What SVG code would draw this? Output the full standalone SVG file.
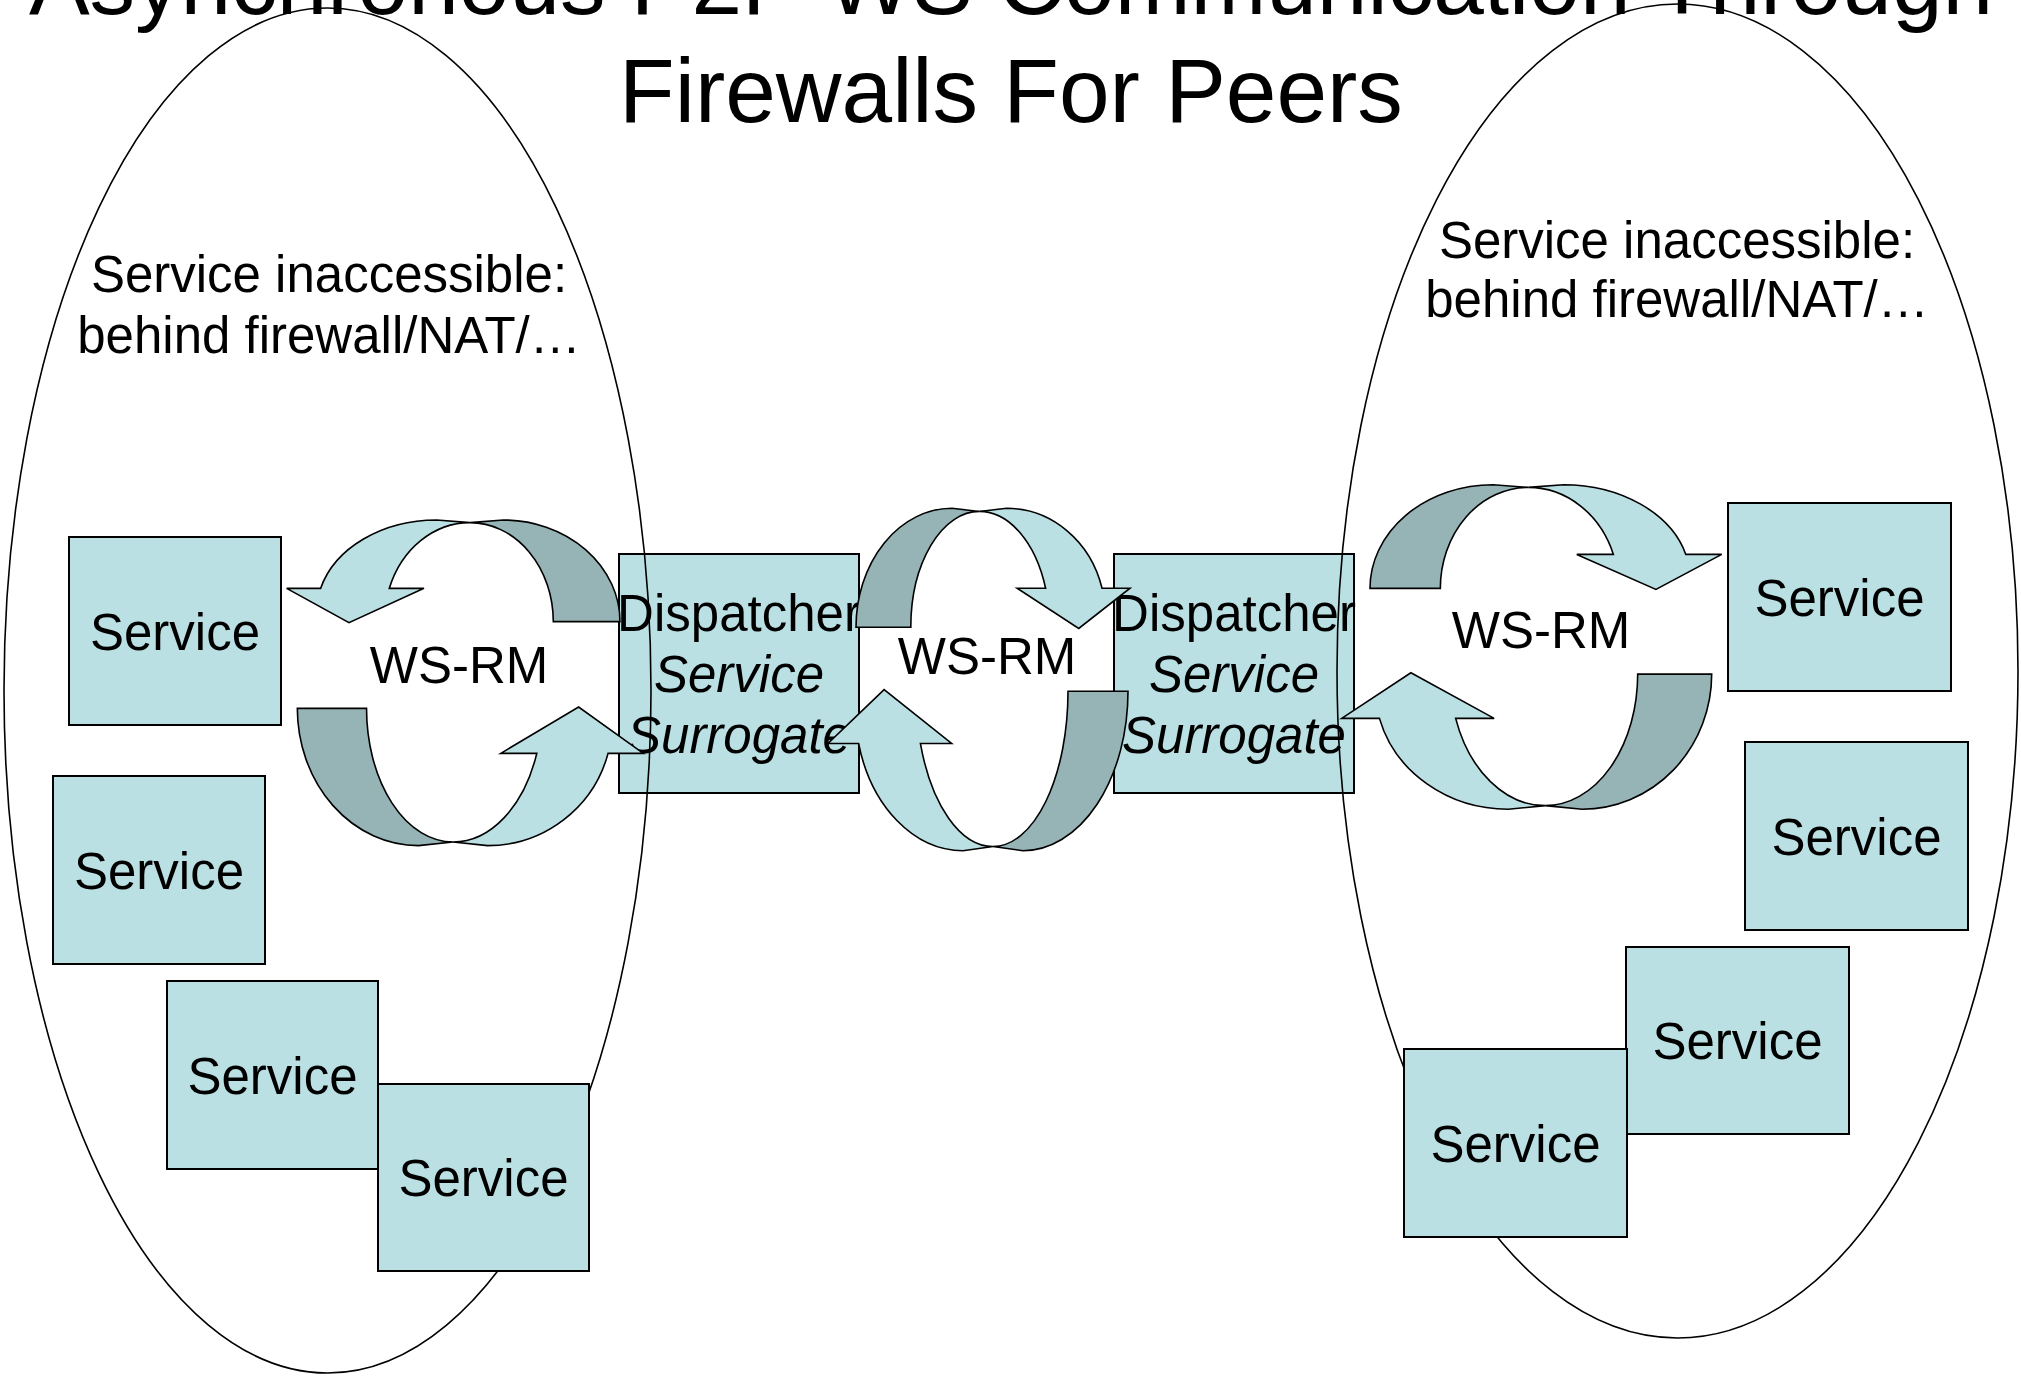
<svg xmlns="http://www.w3.org/2000/svg" width="2021" height="1376" viewBox="0 0 2021 1376">
<style>
text{font-family:"Liberation Sans",Arial,sans-serif;fill:#000;text-anchor:middle}
.t{font-size:91px}
.l{font-size:51px}
.i{font-style:italic}
.box{fill:#BBE0E3;stroke:#000;stroke-width:2}
.lt{fill:#BBE0E3;stroke:#000;stroke-width:1.6}
.dk{fill:#96B4B6;stroke:#000;stroke-width:1.6}
.ell{fill:none;stroke:#000;stroke-width:1.6}
</style>
<defs>
<g id="ca">
<path class="dk" vector-effect="non-scaling-stroke" d="M1000,305 A350,305 0 0 0 650,0 L550,8 A250,297 0 0 1 800,305 Z"/>
<path class="lt" vector-effect="non-scaling-stroke" d="M102,205 A360,276 0 0 1 450,0 L550,8 A257,297 0 0 0 308,205 L412,205 L187,308 L0,205 Z"/>
</g>
</defs>
<rect width="2021" height="1376" fill="#fff"/>
<g id="title">
<text class="t" x="1011" y="14">Asynchronous P2P WS Communication Through</text>
<text class="t" x="1011" y="122">Firewalls For Peers</text>
</g>
<g id="dispatcher1">
<rect class="box" x="619" y="554" width="240" height="239"/>
<text class="l" x="739" y="631">Dispatcher</text>
<text class="l i" x="739" y="692">Service</text>
<text class="l i" x="739" y="753">Surrogate</text>
</g>
<g id="dispatcher2">
<rect class="box" x="1114" y="554" width="240" height="239"/>
<text class="l" x="1234" y="631">Dispatcher</text>
<text class="l i" x="1234" y="692">Service</text>
<text class="l i" x="1234" y="753">Surrogate</text>
</g>
<g id="connectors">
<use href="#ca" transform="translate(286.67,520) scale(0.3333)"/>
<use href="#ca" transform="translate(643.33,845.6) scale(-0.346,-0.45)"/>
<use href="#ca" transform="translate(1130,508.3) scale(-0.274,0.39)"/>
<use href="#ca" transform="translate(828,850.7) scale(0.3,-0.523)"/>
<use href="#ca" transform="translate(1721.7,484.7) scale(-0.3517,0.34)"/>
<use href="#ca" transform="translate(1341.7,809.2) scale(0.37,-0.443)"/>
<text class="l" x="459" y="683">WS-RM</text>
<text class="l" x="987" y="674">WS-RM</text>
<text class="l" x="1541" y="648">WS-RM</text>
</g>
<g id="firewall-left">
<ellipse class="ell" cx="327.5" cy="690.5" rx="323.5" ry="682.5"/>
<text class="l" x="329" y="292">Service inaccessible:</text>
<text class="l" x="329" y="353">behind firewall/NAT/…</text>
</g>
<g id="firewall-right">
<ellipse class="ell" cx="1677.5" cy="671" rx="340.5" ry="667"/>
<text class="l" x="1677" y="258">Service inaccessible:</text>
<text class="l" x="1677" y="317">behind firewall/NAT/…</text>
</g>
<g id="service1"><rect class="box" x="69" y="537" width="212" height="188"/><text class="l" x="175" y="649.5">Service</text></g>
<g id="service2"><rect class="box" x="53" y="776" width="212" height="188"/><text class="l" x="159" y="888.5">Service</text></g>
<g id="service3"><rect class="box" x="167" y="981" width="211" height="188"/><text class="l" x="272.5" y="1093.5">Service</text></g>
<g id="service4"><rect class="box" x="378" y="1084" width="211" height="187"/><text class="l" x="483.5" y="1196">Service</text></g>
<g id="service5"><rect class="box" x="1728" y="503" width="223" height="188"/><text class="l" x="1839.5" y="615.5">Service</text></g>
<g id="service6"><rect class="box" x="1745" y="742" width="223" height="188"/><text class="l" x="1856.5" y="854.5">Service</text></g>
<g id="service7"><rect class="box" x="1626" y="947" width="223" height="187"/><text class="l" x="1737.5" y="1059">Service</text></g>
<g id="service8"><rect class="box" x="1404" y="1049" width="223" height="188"/><text class="l" x="1515.5" y="1161.5">Service</text></g>
</svg>
